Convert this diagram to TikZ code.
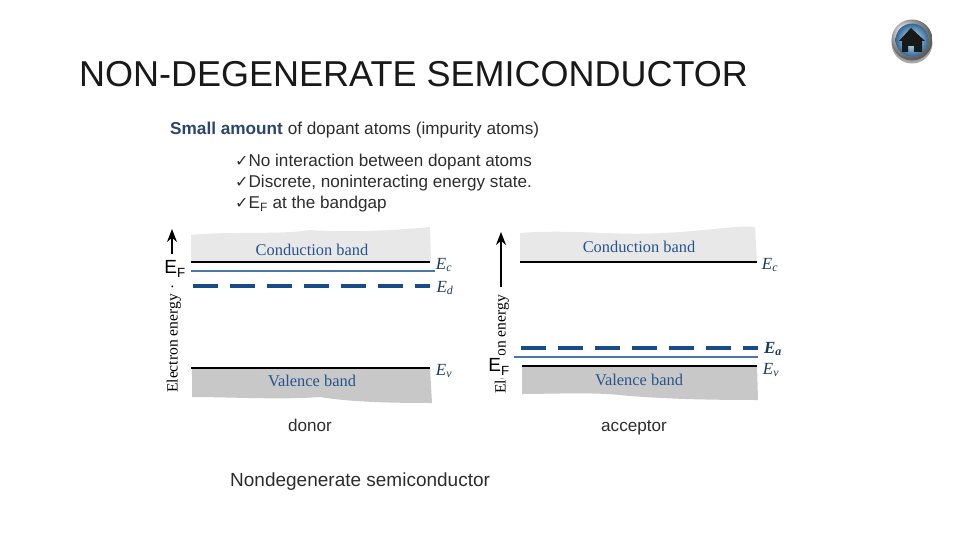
\documentclass[tikz,border=0pt]{standalone}
\usepackage{fontspec}
\setmainfont{Liberation Sans}
\newfontfamily\serifband{Liberation Serif}
\newfontfamily\tickfont{DejaVu Sans}
\newcommand{\tickmark}{{\tickfont\fontsize{16}{17}\selectfont ✓}}
\definecolor{BandBlue}{RGB}{38, 84, 140}
\definecolor{LevelBlue}{RGB}{74, 120, 168}
\definecolor{DashBlue}{RGB}{24, 76, 136}
\definecolor{HeadBlue}{RGB}{42, 70, 110}
\definecolor{CondGray}{RGB}{232, 232, 232}
\definecolor{ValGray}{RGB}{200, 200, 200}
\definecolor{TextGray}{RGB}{45, 45, 45}
\usetikzlibrary{arrows.meta, positioning}
\tikzset{
  bandlabel/.style={font=\serifband\fontsize{16.4}{18}\selectfont, text=BandBlue, inner sep=0pt},
  levellabel/.style={font=\serifband\itshape\fontsize{17}{18}\selectfont, text=BandBlue!70!black, inner sep=0pt},
  bodytext/.style={font=\fontsize{17.1}{19}\selectfont, text=TextGray, inner sep=0pt},
  axislabel/.style={font=\serifband\fontsize{15.6}{17}\selectfont, rotate=90, inner sep=0pt},
  ferminode/.style={font=\fontsize{19}{20}\selectfont, inner sep=0pt},
  solidlevel/.style={line width=1.9pt, black},
  thinlevel/.style={line width=1.3pt, LevelBlue},
  dashlevel/.style={line width=3.2pt, DashBlue, dash pattern=on 25pt off 12pt},
}
\begin{document}
\begin{tikzpicture}[x=1pt, y=-1pt, >={Stealth[length=13pt, width=10pt]}]
  \useasboundingbox[fill=white] (0,0) rectangle (960,540);
  % title
  \node[anchor=west, inner sep=0pt, font=\fontsize{36}{38}\selectfont, text=black!90] (title) at (79,74) {NON-DEGENERATE SEMICONDUCTOR};
  % home button
  \fill[black!35] (912,43) circle (20.5);
  \shade[ball color=black!15] (912,40) circle (20.5);
  \shade[inner color=cyan!15!white, outer color=cyan!50!blue!50!black!80] (912,40) circle (16.5);
  \fill[black!90] (899,41) -- (911,28) -- (925,41) -- (922,41) -- (922,52) -- (914,52) -- (914,46) -- (908,46) -- (908,52) -- (902,52) -- (902,41) -- cycle;
  % heading + list
  \node[anchor=west, font=\fontsize{17.2}{19}\selectfont, inner sep=0pt, text=TextGray] (heading) at (170,130.5) {\textcolor{HeadBlue}{\textbf{Small amount}} of dopant atoms (impurity atoms)};
  \node[anchor=west, bodytext] (itemone) at (235,162.5) {\tickmark No interaction between dopant atoms};
  \node[anchor=west, bodytext] (itemtwo) at (235,183.5) {\tickmark Discrete, noninteracting energy state.};
  \node[anchor=west, bodytext] (itemthree) at (235,204.5) {\tickmark E\textsubscript{F} at the bandgap};
  % donor bands
  \fill[CondGray] (191,235) .. controls (230,231) and (280,235) .. (310,230) .. controls (350,233) and (400,230) .. (430,227) -- (431,262) -- (191,262) -- cycle;
  \fill[ValGray] (192,368) -- (430,368) -- (432,403) .. controls (390,403) and (350,402) .. (320,397) .. controls (280,400) and (230,397) .. (192,397) -- cycle;
  \node[bandlabel] (condleft) at (312,250) {Conduction band};
  \node[bandlabel] (valleft) at (312,381) {Valence band};
  % donor levels
  \coordinate (ecstart) at (191,262); \coordinate (ecend) at (430,262);
  \coordinate (thinstart) at (191,271); \coordinate (thinend) at (435,271);
  \coordinate (edstart) at (193,286); \coordinate (edend) at (430,286);
  \coordinate (evstart) at (191,368); \coordinate (evend) at (430,368);
  \draw[solidlevel] (ecstart) -- (ecend);
  \draw[thinlevel] (thinstart) -- (thinend);
  \draw[dashlevel] (edstart) -- (edend);
  \draw[solidlevel] (evstart) -- (evend);
  \node[levellabel] (ecleft) at (444,265) {E\textsubscript{c}};
  \node[levellabel] (edleft) at (445,288) {E\textsubscript{d}};
  \node[levellabel] (evleft) at (444,371) {E\textsubscript{v}};
  % donor axis
  \coordinate (axisbase) at (172,254); \coordinate (axistip) at (172,229);
  \draw[->, line width=1.5pt] (axisbase) -- (axistip);
  \node[axislabel, anchor=west] (axisleft) at (174,393) {Electron energy ·};
  \node[ferminode] (efleft) at (175,269) {E\textsubscript{F}};
  % acceptor bands
  \fill[CondGray] (520,233) .. controls (570,229) and (620,236) .. (660,233) .. controls (700,232) and (735,225) .. (755,227) -- (757,262) -- (520,262) -- cycle;
  \fill[ValGray] (522,366) -- (757,366) -- (758,400) .. controls (710,400) and (660,399) .. (620,395) .. controls (590,392) and (550,394) .. (522,394) -- cycle;
  \node[bandlabel] (condright) at (639,247) {Conduction band};
  \node[bandlabel] (valright) at (639,380) {Valence band};
  % acceptor levels
  \coordinate (ecstartr) at (520,262); \coordinate (ecendr) at (757,262);
  \coordinate (eastart) at (521,348); \coordinate (eaend) at (758,348);
  \coordinate (thinstartr) at (514,357); \coordinate (thinendr) at (758,357);
  \coordinate (evstartr) at (522,366); \coordinate (evendr) at (757,366);
  \draw[line width=1.3pt] (ecstartr) -- (ecendr);
  \draw[dashlevel] (eastart) -- (eaend);
  \draw[thinlevel] (thinstartr) -- (thinendr);
  \draw[line width=1.3pt] (evstartr) -- (evendr);
  \node[levellabel] (ecright) at (770,265) {E\textsubscript{c}};
  \node[levellabel, font=\serifband\bfseries\itshape\fontsize{17}{18}\selectfont] (earight) at (773,349) {E\textsubscript{a}};
  \node[levellabel] (evright) at (771,370) {E\textsubscript{v}};
  % acceptor axis
  \coordinate (axisbaser) at (501,287); \coordinate (axistipr) at (501,232);
  \draw[->, line width=1.5pt] (axisbaser) -- (axistipr);
  \node[axislabel, anchor=west] (axisright) at (502,394) {Electron energy};
  \fill[white] (488,355) rectangle (512,378);
  \node[ferminode] (efright) at (499,367) {E\textsubscript{F}};
  % captions
  \node[bodytext, anchor=base] (donor) at (310,431) {donor};
  \node[bodytext, anchor=base] (acceptor) at (634,431) {acceptor};
  \node[anchor=west, bodytext, font=\fontsize{19}{20}\selectfont] (caption) at (230,481.5) {Nondegenerate semiconductor};
\end{tikzpicture}
\end{document}
